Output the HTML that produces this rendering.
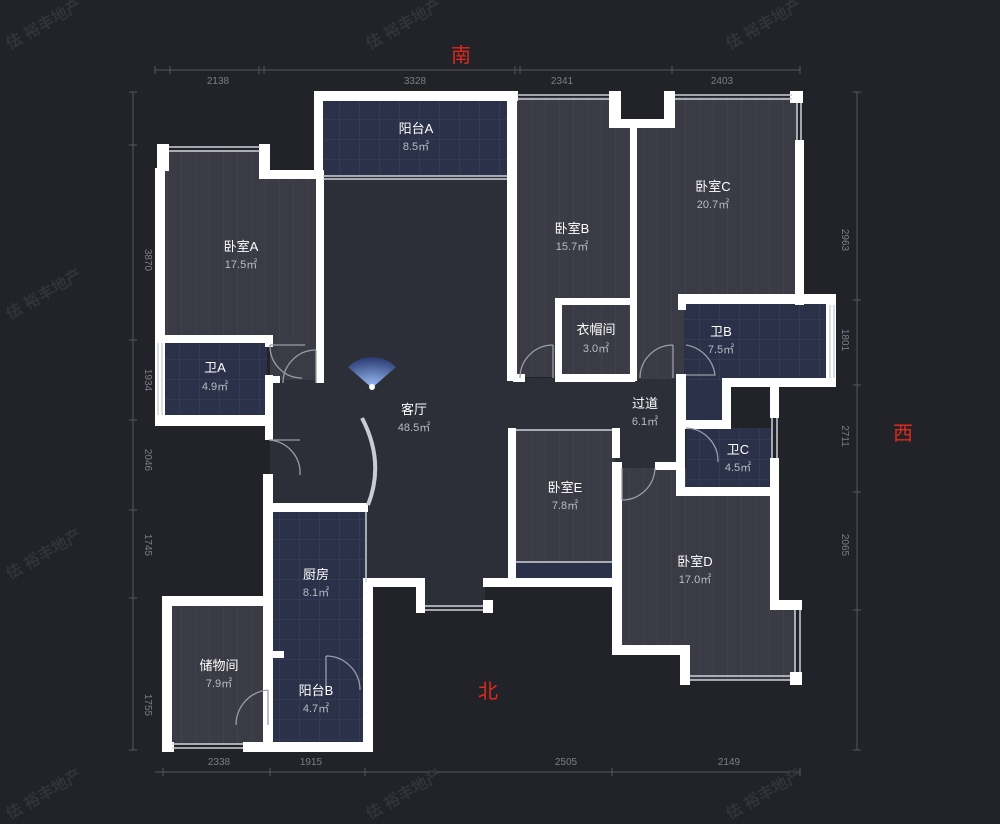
<!DOCTYPE html>
<html><head><meta charset="utf-8"><style>
html,body{margin:0;padding:0;background:#222328;}
svg{display:block;}
text{font-family:"Liberation Sans","Noto Sans CJK SC",sans-serif;}
</style></head><body>
<svg width="1000" height="824" viewBox="0 0 1000 824" xmlns="http://www.w3.org/2000/svg">
<defs>
<pattern id="gv" width="14" height="14" patternUnits="userSpaceOnUse"><path d="M14 0V14" stroke="#4a4a56" stroke-width="1"/></pattern>
<pattern id="gw" width="20" height="20" patternUnits="userSpaceOnUse"><path d="M20 0V20M0 20H20" stroke="#3a4260" stroke-width="1"/></pattern>
<radialGradient id="fan" cx="0.5" cy="1" r="1"><stop offset="0" stop-color="#9fc4ff"/><stop offset="1" stop-color="#2a3a70"/></radialGradient>
</defs>
<rect width="1000" height="824" fill="#222328"/>
<g fill="#2c2e38">
<rect x="270" y="175" width="250" height="408"/>
<rect x="515" y="378" width="170" height="95"/>
<rect x="425" y="580" width="60" height="28"/>
</g>
<g fill="#3b3b46">
<rect x="165" y="150" width="95" height="190"/>
<rect x="260" y="176" width="57" height="164"/>
<rect x="270" y="340" width="47" height="40"/>
<rect x="515" y="97" width="96" height="30"/>
<rect x="515" y="125" width="117" height="252"/>
<rect x="632" y="125" width="165" height="254"/>
<rect x="673" y="97" width="124" height="30"/>
<rect x="562" y="303" width="70" height="75"/>
<rect x="515" y="430" width="100" height="135"/>
<rect x="620" y="468" width="153" height="180"/>
<rect x="688" y="605" width="108" height="75"/>
<rect x="170" y="605" width="95" height="140"/>
</g>
<g fill="url(#gv)">
<rect x="165" y="150" width="95" height="190"/>
<rect x="260" y="176" width="57" height="164"/>
<rect x="515" y="97" width="96" height="30"/>
<rect x="515" y="125" width="117" height="252"/>
<rect x="632" y="125" width="165" height="254"/>
<rect x="673" y="97" width="124" height="30"/>
<rect x="515" y="430" width="100" height="135"/>
<rect x="620" y="468" width="153" height="180"/>
<rect x="688" y="605" width="108" height="75"/>
<rect x="170" y="605" width="95" height="140"/>
</g>
<g fill="#2b3149">
<rect x="322" y="101" width="187" height="75"/>
<rect x="165" y="342" width="102" height="75"/>
<rect x="684" y="303" width="145" height="78"/>
<rect x="684" y="380" width="42" height="45"/>
<rect x="686" y="428" width="86" height="62"/>
<rect x="273" y="510" width="92" height="235"/>
<rect x="516" y="562" width="98" height="16"/>
</g>
<g fill="url(#gw)">
<rect x="322" y="101" width="187" height="75"/>
<rect x="165" y="342" width="102" height="75"/>
<rect x="684" y="303" width="145" height="78"/>
<rect x="686" y="428" width="86" height="62"/>
<rect x="273" y="510" width="92" height="235"/>
</g>
<g fill="#ffffff">
<rect x="314" y="91" width="204" height="10"/>
<rect x="314" y="91" width="9" height="88"/>
<rect x="507" y="91" width="10" height="290"/>
<rect x="157" y="144" width="12" height="27"/>
<rect x="259" y="144" width="11" height="34"/>
<rect x="259" y="170" width="64" height="9"/>
<rect x="155" y="168" width="10" height="258"/>
<rect x="316" y="170" width="8" height="213"/>
<rect x="155" y="335" width="117" height="8"/>
<rect x="265" y="335" width="8" height="12"/>
<rect x="265" y="375" width="8" height="65"/>
<rect x="270" y="376" width="10" height="7"/>
<rect x="155" y="415" width="118" height="11"/>
<rect x="263" y="474" width="10" height="278"/>
<rect x="263" y="503" width="105" height="9"/>
<rect x="162" y="596" width="110" height="10"/>
<rect x="162" y="596" width="10" height="156"/>
<rect x="162" y="742" width="12" height="10"/>
<rect x="243" y="742" width="130" height="10"/>
<rect x="264" y="651" width="20" height="7"/>
<rect x="363" y="582" width="10" height="170"/>
<rect x="363" y="578" width="58" height="9"/>
<rect x="416" y="578" width="9" height="35"/>
<rect x="483" y="600" width="10" height="13"/>
<rect x="483" y="578" width="135" height="9"/>
<rect x="609" y="91" width="12" height="37"/>
<rect x="664" y="91" width="11" height="37"/>
<rect x="609" y="119" width="66" height="9"/>
<rect x="630" y="125" width="7" height="256"/>
<rect x="790" y="91" width="13" height="12"/>
<rect x="795" y="140" width="9" height="165"/>
<rect x="513" y="374" width="12" height="8"/>
<rect x="555" y="374" width="80" height="8"/>
<rect x="555" y="298" width="80" height="7"/>
<rect x="555" y="298" width="7" height="82"/>
<rect x="678" y="294" width="158" height="10"/>
<rect x="826" y="294" width="10" height="92"/>
<rect x="725" y="378" width="111" height="9"/>
<rect x="678" y="298" width="8" height="12"/>
<rect x="676" y="374" width="10" height="55"/>
<rect x="676" y="420" width="55" height="9"/>
<rect x="722" y="378" width="9" height="50"/>
<rect x="770" y="378" width="9" height="40"/>
<rect x="770" y="458" width="9" height="152"/>
<rect x="676" y="420" width="9" height="75"/>
<rect x="676" y="487" width="103" height="9"/>
<rect x="508" y="428" width="8" height="155"/>
<rect x="612" y="428" width="8" height="30"/>
<rect x="612" y="462" width="10" height="190"/>
<rect x="655" y="462" width="30" height="8"/>
<rect x="612" y="645" width="78" height="10"/>
<rect x="680" y="645" width="10" height="40"/>
<rect x="770" y="600" width="32" height="10"/>
<rect x="790" y="672" width="12" height="13"/>
</g>
<g stroke="#cfd2da" stroke-width="1.5" fill="none">
<path d="M169 147H260M169 151H260"/>
<path d="M323 176H507M323 179H507"/>
<path d="M517 95H609M517 99H609"/>
<path d="M675 95H792M675 99H792"/>
<path d="M797 103V140M801 103V140"/>
<path d="M830 305V378M834 305V378"/>
<path d="M772 418V458M777 418V458"/>
<path d="M795 610V672M800 610V672"/>
<path d="M690 676H790M690 680H790"/>
<path d="M425 606H483M425 610H483"/>
<path d="M172 744H243M172 748H243"/>
<path d="M158 343V415M162 343V415"/>
<path d="M516 430H612M516 562H612"/>
<path d="M366 512V582"/>
</g>
<g stroke="#9a9ca6" stroke-width="1.3" fill="none">
<path d="M316 350V383M316 350A33 33 0 0 0 283 383"/>
<path d="M270 345H305M270 345A32 32 0 0 0 302 378"/>
<path d="M269 440H300M269 440A33 33 0 0 1 300 475"/>
<path d="M553 345V378M553 345A33 33 0 0 0 520 378"/>
<path d="M673 345V378M673 345A33 33 0 0 0 640 378"/>
<path d="M686 345A35 35 0 0 1 715 375H686"/>
<path d="M686 428A33 33 0 0 1 718 462"/>
<path d="M622 468V500M622 500A33 33 0 0 0 655 468"/>
<path d="M326 656V690M326 656A34 34 0 0 1 360 690"/>
<path d="M268 690V725M268 690A35 35 0 0 0 236 725"/>
</g>
<path d="M362 418Q385 462 368 505" stroke="#c9ccd6" stroke-width="4" fill="none"/>
<path d="M348 367A34 34 0 0 1 396 367L372 388Z" fill="url(#fan)"/>
<circle cx="372" cy="387" r="3" fill="#fff"/>
<g stroke="#55575f" stroke-width="1" fill="none">
<path d="M155 70H800M133 92V750M857 92V750M155 772H800"/>
<path d="M155 66V74M170 66V74M259 66V74M264 66V74M515 66V74M520 66V74M672 66V74M800 66V74"/>
<path d="M129 92H137M129 145H137M129 340H137M129 420H137M129 510H137M129 598H137M129 750H137"/>
<path d="M853 92H861M853 300H861M853 385H861M853 492H861M853 610H861M853 750H861"/>
<path d="M163 768V776M270 768V776M365 768V776M612 768V776M800 768V776"/>
</g>
<g fill="#7c7e86" font-size="10" text-anchor="middle">
<text x="218" y="84">2138</text><text x="415" y="84">3328</text><text x="562" y="84">2341</text><text x="722" y="84">2403</text>
<text x="219" y="765">2338</text><text x="311" y="765">1915</text><text x="566" y="765">2505</text><text x="729" y="765">2149</text>
<text transform="translate(145,260) rotate(90)">3870</text>
<text transform="translate(145,380) rotate(90)">1934</text>
<text transform="translate(145,460) rotate(90)">2046</text>
<text transform="translate(145,545) rotate(90)">1745</text>
<text transform="translate(145,705) rotate(90)">1755</text>
<text transform="translate(842,240) rotate(90)">2963</text>
<text transform="translate(842,340) rotate(90)">1801</text>
<text transform="translate(842,436) rotate(90)">2711</text>
<text transform="translate(842,545) rotate(90)">2065</text>
</g>
<g fill="#e0281e" font-size="20" text-anchor="middle">
<text x="461" y="62">南</text><text x="903" y="440">西</text><text x="488" y="698">北</text>
</g>
<g fill="#31333b" font-size="16" font-weight="bold">
<text transform="translate(10,50) rotate(-30)">佉 裕丰地产</text>
<text transform="translate(370,50) rotate(-30)">佉 裕丰地产</text>
<text transform="translate(730,50) rotate(-30)">佉 裕丰地产</text>
<text transform="translate(10,320) rotate(-30)">佉 裕丰地产</text>
<text transform="translate(10,580) rotate(-30)">佉 裕丰地产</text>
<text transform="translate(10,820) rotate(-30)">佉 裕丰地产</text>
<text transform="translate(730,820) rotate(-30)">佉 裕丰地产</text>
<text transform="translate(370,820) rotate(-30)">佉 裕丰地产</text>
</g>
<g fill="#ffffff" font-size="13" text-anchor="middle">
<text x="416" y="133">阳台A</text><text x="241" y="251">卧室A</text><text x="572" y="233">卧室B</text>
<text x="713" y="191">卧室C</text><text x="596" y="334">衣帽间</text><text x="721" y="336">卫B</text>
<text x="215" y="372">卫A</text><text x="414" y="414">客厅</text><text x="645" y="408">过道</text>
<text x="738" y="454">卫C</text><text x="565" y="492">卧室E</text><text x="695" y="566">卧室D</text>
<text x="316" y="579">厨房</text><text x="219" y="670">储物间</text><text x="316" y="695">阳台B</text>
</g>
<g fill="#b8bac4" font-size="11" text-anchor="middle">
<text x="416" y="150">8.5㎡</text><text x="241" y="268">17.5㎡</text><text x="572" y="250">15.7㎡</text>
<text x="713" y="208">20.7㎡</text><text x="596" y="352">3.0㎡</text><text x="721" y="353">7.5㎡</text>
<text x="215" y="390">4.9㎡</text><text x="414" y="431">48.5㎡</text><text x="645" y="425">6.1㎡</text>
<text x="738" y="471">4.5㎡</text><text x="565" y="509">7.8㎡</text><text x="695" y="583">17.0㎡</text>
<text x="316" y="596">8.1㎡</text><text x="219" y="687">7.9㎡</text><text x="316" y="712">4.7㎡</text>
</g>
</svg>
</body></html>
